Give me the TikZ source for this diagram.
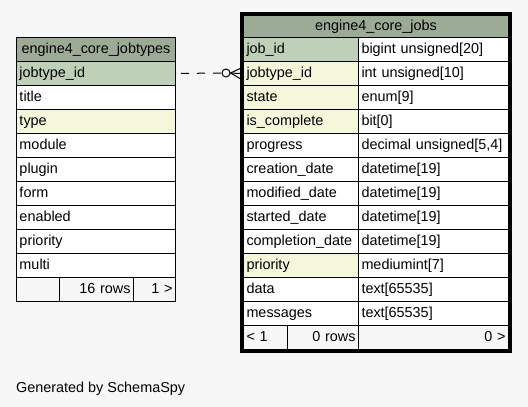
\documentclass[tikz,border=0pt]{standalone}
\usepackage{fontspec}
\setmainfont{Liberation Sans}
\definecolor{headgreen}{HTML}{9BAB96}
\definecolor{keygreen}{HTML}{BED1B8}
\definecolor{idxyellow}{HTML}{F4F7DA}
\definecolor{pagegrey}{HTML}{F7F7F7}

\begin{document}
\begin{tikzpicture}[x=1pt, y=-1pt,
  font=\fontsize{14.4}{16}\selectfont,
  cell/.style={draw, line width=1pt, fill=white, anchor=north west, minimum height=24pt, inner xsep=3pt, inner ysep=0pt, text height=11pt, text depth=2.5pt, align=left},
  tpcol/.style={cell, text width=153pt},
  namecol/.style={cell, text width=109pt},
  typecol/.style={cell, text width=144pt},
  headcell/.style={cell, fill=headgreen, align=center},
  footcell/.style={cell, fill=pagegrey, align=right}
]
  \fill[pagegrey] (0,0) rectangle (528,407);
  \useasboundingbox (0,0) rectangle (528,407);

  % Jobtypes table
  \node[headcell, text width=153pt] (tphead) at (16,37) {engine4\_core\_jobtypes};
  \node[tpcol, fill=keygreen] (tpid) at (16,61) {jobtype\_id};
  \node[tpcol] (tptitle) at (16,85) {title};
  \node[tpcol, fill=idxyellow] (tptype) at (16,109) {type};
  \node[tpcol] (tpmodule) at (16,133) {module};
  \node[tpcol] (tpplugin) at (16,157) {plugin};
  \node[tpcol] (tpform) at (16,181) {form};
  \node[tpcol] (tpenabled) at (16,205) {enabled};
  \node[tpcol] (tppriority) at (16,229) {priority};
  \node[tpcol] (tpmulti) at (16,253) {multi};
  \node[footcell, text width=37pt] (tpfootl) at (16,277) {};
  \node[footcell, text width=68pt] (tpfootm) at (59,277) {16 rows};
  \node[footcell, text width=36pt] (tpfootr) at (133,277) {1 >};

  % Jobs table
  \node[headcell, text width=259pt, minimum height=22pt] (jhead) at (243,15) {engine4\_core\_jobs};
  \node[namecol, fill=keygreen] (jid) at (243,37) {job\_id};
  \node[typecol] (jidtype) at (358,37) {bigint unsigned[20]};
  \node[namecol, fill=idxyellow] (jtid) at (243,61) {jobtype\_id};
  \node[typecol] (jtidtype) at (358,61) {int unsigned[10]};
  \node[namecol, fill=idxyellow] (jstate) at (243,85) {state};
  \node[typecol] (jstatetype) at (358,85) {enum[9]};
  \node[namecol, fill=idxyellow] (jcomplete) at (243,109) {is\_complete};
  \node[typecol] (jcompletetype) at (358,109) {bit[0]};
  \node[namecol] (jprogress) at (243,133) {progress};
  \node[typecol] (jprogresstype) at (358,133) {decimal unsigned[5,4]};
  \node[namecol] (jcreated) at (243,157) {creation\_date};
  \node[typecol] (jcreatedtype) at (358,157) {datetime[19]};
  \node[namecol] (jmodified) at (243,181) {modified\_date};
  \node[typecol] (jmodifiedtype) at (358,181) {datetime[19]};
  \node[namecol] (jstarted) at (243,205) {started\_date};
  \node[typecol] (jstartedtype) at (358,205) {datetime[19]};
  \node[namecol] (jdone) at (243,229) {completion\_date};
  \node[typecol] (jdonetype) at (358,229) {datetime[19]};
  \node[namecol, fill=idxyellow] (jpriority) at (243,253) {priority};
  \node[typecol] (jprioritytype) at (358,253) {mediumint[7]};
  \node[namecol] (jdata) at (243,277) {data};
  \node[typecol] (jdatatype) at (358,277) {text[65535]};
  \node[namecol] (jmsg) at (243,301) {messages};
  \node[typecol] (jmsgtype) at (358,301) {text[65535]};
  \node[footcell, text width=38pt, align=left] (jfootl) at (243,325) {< 1};
  \node[footcell, text width=65pt] (jfootm) at (287,325) {0 rows};
  \node[footcell, text width=144pt] (jfootr) at (358,325) {0 >};
  \draw[line width=3pt] ([shift={(-1.5,-1.5)}]jhead.north west) rectangle ([shift={(1.5,1.5)}]jfootr.south east);

  % Relationship
  \node[circle, draw, line width=1pt, fill=pagegrey, minimum size=8pt, inner sep=0pt] (odot) at (226,73) {};
  \draw[line width=1pt, dash pattern=on 8pt off 8pt, dash phase=11pt] (tpid.east) -- (odot.west);
  \draw[line width=1pt] ([xshift=-3pt, yshift=5pt]jtid.west) -- (odot.east) -- ([xshift=-3pt, yshift=-5pt]jtid.west);
  \draw[line width=1pt] (odot.east) -- ([xshift=-3pt]jtid.west);

  \node[anchor=base west, inner sep=0pt] (credit) at (16,392) {Generated by SchemaSpy};
\end{tikzpicture}
\end{document}
